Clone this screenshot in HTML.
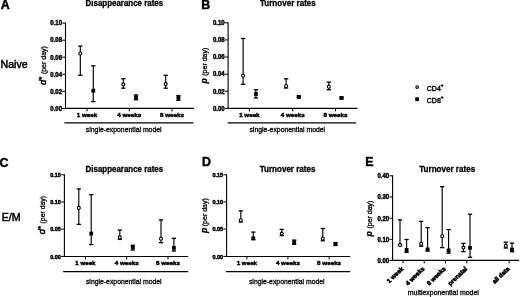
<!DOCTYPE html>
<html><head><meta charset="utf-8"><title>Figure</title>
<style>html,body{margin:0;padding:0;background:#fff}svg{display:block}text{font-family:"Liberation Sans",sans-serif;stroke:#000;stroke-width:0.3px}.b{stroke-width:0.45px}.h{stroke-width:0.5px}.r{stroke-width:0.55px}.m{stroke-width:0.4px}.t{stroke-width:0.2px}</style>
</head><body>
<svg width="520" height="297" viewBox="0 0 520 297">
<rect width="520" height="297" fill="#fff"/>
<text x="0.85" y="9.30" font-size="12.4" text-anchor="start" font-weight="bold" class="b" fill="#000">A</text>
<text x="201.20" y="8.60" font-size="12.4" text-anchor="start" font-weight="bold" class="b" fill="#000">B</text>
<text x="-0.40" y="166.70" font-size="12.4" text-anchor="start" font-weight="bold" class="b" fill="#000">C</text>
<text x="202.10" y="165.90" font-size="12.4" text-anchor="start" font-weight="bold" class="b" fill="#000">D</text>
<text x="365.30" y="165.80" font-size="12.4" text-anchor="start" font-weight="bold" class="b" fill="#000">E</text>
<text x="0.50" y="68.00" font-size="10.6" text-anchor="start" fill="#000" class="h">Naive</text>
<text x="1.70" y="220.60" font-size="10.7" text-anchor="start" fill="#000" class="h">E/M</text>
<line x1="65.50" y1="22.60" x2="65.50" y2="109.00" stroke="#000" stroke-width="1.1"/>
<line x1="64.95" y1="108.40" x2="194.00" y2="108.40" stroke="#000" stroke-width="1.1"/>
<line x1="62.20" y1="23.10" x2="65.50" y2="23.10" stroke="#000" stroke-width="1.0"/>
<text x="62.00" y="25.40" font-size="6.5" text-anchor="end" font-weight="bold" class="b" textLength="11.70" lengthAdjust="spacingAndGlyphs" fill="#000">0.10</text>
<line x1="62.20" y1="40.16" x2="65.50" y2="40.16" stroke="#000" stroke-width="1.0"/>
<text x="62.00" y="42.46" font-size="6.5" text-anchor="end" font-weight="bold" class="b" textLength="11.70" lengthAdjust="spacingAndGlyphs" fill="#000">0.08</text>
<line x1="62.20" y1="57.22" x2="65.50" y2="57.22" stroke="#000" stroke-width="1.0"/>
<text x="62.00" y="59.52" font-size="6.5" text-anchor="end" font-weight="bold" class="b" textLength="11.70" lengthAdjust="spacingAndGlyphs" fill="#000">0.06</text>
<line x1="62.20" y1="74.28" x2="65.50" y2="74.28" stroke="#000" stroke-width="1.0"/>
<text x="62.00" y="76.58" font-size="6.5" text-anchor="end" font-weight="bold" class="b" textLength="11.70" lengthAdjust="spacingAndGlyphs" fill="#000">0.04</text>
<line x1="62.20" y1="91.34" x2="65.50" y2="91.34" stroke="#000" stroke-width="1.0"/>
<text x="62.00" y="93.64" font-size="6.5" text-anchor="end" font-weight="bold" class="b" textLength="11.70" lengthAdjust="spacingAndGlyphs" fill="#000">0.02</text>
<line x1="62.20" y1="108.40" x2="65.50" y2="108.40" stroke="#000" stroke-width="1.0"/>
<text x="62.00" y="110.70" font-size="6.5" text-anchor="end" font-weight="bold" class="b" textLength="11.70" lengthAdjust="spacingAndGlyphs" fill="#000">0.00</text>
<line x1="87.00" y1="108.40" x2="87.00" y2="111.40" stroke="#000" stroke-width="1.0"/>
<line x1="129.30" y1="108.40" x2="129.30" y2="111.40" stroke="#000" stroke-width="1.0"/>
<line x1="172.00" y1="108.40" x2="172.00" y2="111.40" stroke="#000" stroke-width="1.0"/>
<text x="87.00" y="116.70" font-size="6.0" text-anchor="middle" font-weight="bold" class="b" textLength="20.40" lengthAdjust="spacingAndGlyphs" fill="#000">1 week</text>
<text x="129.30" y="116.70" font-size="6.0" text-anchor="middle" font-weight="bold" class="b" textLength="24.00" lengthAdjust="spacingAndGlyphs" fill="#000">4 weeks</text>
<text x="172.00" y="116.70" font-size="6.0" text-anchor="middle" font-weight="bold" class="b" textLength="24.00" lengthAdjust="spacingAndGlyphs" fill="#000">8 weeks</text>
<line x1="80.30" y1="46.00" x2="80.30" y2="75.30" stroke="#000" stroke-width="1.15"/>
<line x1="78.15" y1="46.10" x2="82.45" y2="46.10" stroke="#000" stroke-width="1.3"/>
<line x1="78.15" y1="75.30" x2="82.45" y2="75.30" stroke="#000" stroke-width="1.3"/>
<circle cx="80.30" cy="53.50" r="1.5" fill="#fff" stroke="#000" stroke-width="1.1"/>
<line x1="93.30" y1="65.70" x2="93.30" y2="101.60" stroke="#000" stroke-width="1.15"/>
<line x1="91.15" y1="65.80" x2="95.45" y2="65.80" stroke="#000" stroke-width="1.3"/>
<line x1="91.15" y1="101.60" x2="95.45" y2="101.60" stroke="#000" stroke-width="1.3"/>
<rect x="91.40" y="88.80" width="3.8" height="3.8" fill="#000"/>
<line x1="123.30" y1="78.60" x2="123.30" y2="88.20" stroke="#000" stroke-width="1.15"/>
<line x1="121.15" y1="78.70" x2="125.45" y2="78.70" stroke="#000" stroke-width="1.3"/>
<line x1="121.15" y1="88.20" x2="125.45" y2="88.20" stroke="#000" stroke-width="1.3"/>
<circle cx="123.30" cy="84.40" r="1.5" fill="#fff" stroke="#000" stroke-width="1.1"/>
<line x1="136.00" y1="94.80" x2="136.00" y2="99.70" stroke="#000" stroke-width="1.15"/>
<line x1="133.85" y1="94.90" x2="138.15" y2="94.90" stroke="#000" stroke-width="1.3"/>
<line x1="133.85" y1="99.70" x2="138.15" y2="99.70" stroke="#000" stroke-width="1.3"/>
<rect x="134.10" y="95.30" width="3.8" height="3.8" fill="#000"/>
<line x1="165.70" y1="75.20" x2="165.70" y2="88.20" stroke="#000" stroke-width="1.15"/>
<line x1="163.55" y1="75.30" x2="167.85" y2="75.30" stroke="#000" stroke-width="1.3"/>
<line x1="163.55" y1="88.20" x2="167.85" y2="88.20" stroke="#000" stroke-width="1.3"/>
<circle cx="165.70" cy="84.10" r="1.5" fill="#fff" stroke="#000" stroke-width="1.1"/>
<line x1="178.40" y1="95.50" x2="178.40" y2="100.30" stroke="#000" stroke-width="1.15"/>
<line x1="176.25" y1="95.60" x2="180.55" y2="95.60" stroke="#000" stroke-width="1.3"/>
<line x1="176.25" y1="100.30" x2="180.55" y2="100.30" stroke="#000" stroke-width="1.3"/>
<rect x="176.50" y="96.00" width="3.8" height="3.8" fill="#000"/>
<text x="124.40" y="6.20" font-size="8.2" text-anchor="middle" font-weight="bold" class="b" textLength="77.60" lengthAdjust="spacingAndGlyphs" fill="#000" style="stroke-width:0.3px">Disappearance rates</text>
<line x1="64.40" y1="122.90" x2="193.30" y2="122.90" stroke="#000" stroke-width="1.3"/>
<text x="123.70" y="131.60" font-size="7" text-anchor="middle" textLength="75.70" lengthAdjust="spacingAndGlyphs" fill="#000">single-exponential model</text>
<text transform="translate(46.00,46.10) rotate(-90)" font-size="7.00" text-anchor="end" fill="#000"><tspan font-style="italic" class="r" font-size="9.40">d</tspan><tspan font-size="7.00" font-weight="bold" dy="-1.9" dx="0.5">*</tspan><tspan dy="1.9" dx="0.6" font-size="7.00"> (per day)</tspan></text>
<line x1="228.10" y1="22.30" x2="228.10" y2="109.00" stroke="#000" stroke-width="1.1"/>
<line x1="227.55" y1="108.40" x2="357.50" y2="108.40" stroke="#000" stroke-width="1.1"/>
<line x1="224.80" y1="22.80" x2="228.10" y2="22.80" stroke="#000" stroke-width="1.0"/>
<text x="224.60" y="25.10" font-size="6.5" text-anchor="end" font-weight="bold" class="b" textLength="11.70" lengthAdjust="spacingAndGlyphs" fill="#000">0.10</text>
<line x1="224.80" y1="39.92" x2="228.10" y2="39.92" stroke="#000" stroke-width="1.0"/>
<text x="224.60" y="42.22" font-size="6.5" text-anchor="end" font-weight="bold" class="b" textLength="11.70" lengthAdjust="spacingAndGlyphs" fill="#000">0.08</text>
<line x1="224.80" y1="57.04" x2="228.10" y2="57.04" stroke="#000" stroke-width="1.0"/>
<text x="224.60" y="59.34" font-size="6.5" text-anchor="end" font-weight="bold" class="b" textLength="11.70" lengthAdjust="spacingAndGlyphs" fill="#000">0.06</text>
<line x1="224.80" y1="74.16" x2="228.10" y2="74.16" stroke="#000" stroke-width="1.0"/>
<text x="224.60" y="76.46" font-size="6.5" text-anchor="end" font-weight="bold" class="b" textLength="11.70" lengthAdjust="spacingAndGlyphs" fill="#000">0.04</text>
<line x1="224.80" y1="91.28" x2="228.10" y2="91.28" stroke="#000" stroke-width="1.0"/>
<text x="224.60" y="93.58" font-size="6.5" text-anchor="end" font-weight="bold" class="b" textLength="11.70" lengthAdjust="spacingAndGlyphs" fill="#000">0.02</text>
<line x1="224.80" y1="108.40" x2="228.10" y2="108.40" stroke="#000" stroke-width="1.0"/>
<text x="224.60" y="110.70" font-size="6.5" text-anchor="end" font-weight="bold" class="b" textLength="11.70" lengthAdjust="spacingAndGlyphs" fill="#000">0.00</text>
<line x1="249.40" y1="108.40" x2="249.40" y2="111.40" stroke="#000" stroke-width="1.0"/>
<line x1="292.70" y1="108.40" x2="292.70" y2="111.40" stroke="#000" stroke-width="1.0"/>
<line x1="335.50" y1="108.40" x2="335.50" y2="111.40" stroke="#000" stroke-width="1.0"/>
<text x="249.40" y="116.70" font-size="6.0" text-anchor="middle" font-weight="bold" class="b" textLength="20.40" lengthAdjust="spacingAndGlyphs" fill="#000">1 week</text>
<text x="292.70" y="116.70" font-size="6.0" text-anchor="middle" font-weight="bold" class="b" textLength="24.00" lengthAdjust="spacingAndGlyphs" fill="#000">4 weeks</text>
<text x="335.50" y="116.70" font-size="6.0" text-anchor="middle" font-weight="bold" class="b" textLength="24.00" lengthAdjust="spacingAndGlyphs" fill="#000">8 weeks</text>
<line x1="243.10" y1="38.40" x2="243.10" y2="84.30" stroke="#000" stroke-width="1.15"/>
<line x1="240.95" y1="38.50" x2="245.25" y2="38.50" stroke="#000" stroke-width="1.3"/>
<line x1="240.95" y1="84.30" x2="245.25" y2="84.30" stroke="#000" stroke-width="1.3"/>
<circle cx="243.10" cy="75.80" r="1.5" fill="#fff" stroke="#000" stroke-width="1.1"/>
<line x1="255.90" y1="89.70" x2="255.90" y2="98.00" stroke="#000" stroke-width="1.15"/>
<line x1="253.75" y1="89.80" x2="258.05" y2="89.80" stroke="#000" stroke-width="1.3"/>
<line x1="253.75" y1="98.00" x2="258.05" y2="98.00" stroke="#000" stroke-width="1.3"/>
<rect x="254.00" y="92.10" width="3.8" height="3.8" fill="#000"/>
<line x1="286.10" y1="78.70" x2="286.10" y2="88.00" stroke="#000" stroke-width="1.15"/>
<line x1="283.95" y1="78.80" x2="288.25" y2="78.80" stroke="#000" stroke-width="1.3"/>
<line x1="283.95" y1="88.00" x2="288.25" y2="88.00" stroke="#000" stroke-width="1.3"/>
<circle cx="286.10" cy="86.00" r="1.5" fill="#fff" stroke="#000" stroke-width="1.1"/>
<line x1="298.80" y1="96.00" x2="298.80" y2="97.80" stroke="#000" stroke-width="1.15"/>
<line x1="296.65" y1="96.10" x2="300.95" y2="96.10" stroke="#000" stroke-width="1.3"/>
<line x1="296.65" y1="97.80" x2="300.95" y2="97.80" stroke="#000" stroke-width="1.3"/>
<rect x="296.90" y="95.00" width="3.8" height="3.8" fill="#000"/>
<line x1="328.80" y1="82.00" x2="328.80" y2="89.70" stroke="#000" stroke-width="1.15"/>
<line x1="326.65" y1="82.10" x2="330.95" y2="82.10" stroke="#000" stroke-width="1.3"/>
<line x1="326.65" y1="89.70" x2="330.95" y2="89.70" stroke="#000" stroke-width="1.3"/>
<circle cx="328.80" cy="86.70" r="1.5" fill="#fff" stroke="#000" stroke-width="1.1"/>
<line x1="341.50" y1="97.00" x2="341.50" y2="98.80" stroke="#000" stroke-width="1.15"/>
<line x1="339.35" y1="97.10" x2="343.65" y2="97.10" stroke="#000" stroke-width="1.3"/>
<line x1="339.35" y1="98.80" x2="343.65" y2="98.80" stroke="#000" stroke-width="1.3"/>
<rect x="339.60" y="96.00" width="3.8" height="3.8" fill="#000"/>
<text x="287.90" y="6.20" font-size="8.2" text-anchor="middle" font-weight="bold" class="b" textLength="55.80" lengthAdjust="spacingAndGlyphs" fill="#000" style="stroke-width:0.3px">Turnover rates</text>
<line x1="227.60" y1="122.90" x2="356.00" y2="122.90" stroke="#000" stroke-width="1.3"/>
<text x="287.30" y="131.60" font-size="7" text-anchor="middle" textLength="75.70" lengthAdjust="spacingAndGlyphs" fill="#000">single-exponential model</text>
<text transform="translate(207.30,47.70) rotate(-90)" font-size="7.00" text-anchor="end" fill="#000"><tspan font-style="italic" font-weight="bold" font-size="8.60">p</tspan><tspan font-size="7.00" dx="0.6"> (per day)</tspan></text>
<line x1="64.40" y1="174.30" x2="64.40" y2="257.10" stroke="#000" stroke-width="1.1"/>
<line x1="63.85" y1="256.50" x2="188.20" y2="256.50" stroke="#000" stroke-width="1.1"/>
<line x1="61.10" y1="174.80" x2="64.40" y2="174.80" stroke="#000" stroke-width="1.0"/>
<text x="60.90" y="177.10" font-size="6.1" text-anchor="end" font-weight="bold" class="b" textLength="10.70" lengthAdjust="spacingAndGlyphs" fill="#000">0.15</text>
<line x1="61.10" y1="202.00" x2="64.40" y2="202.00" stroke="#000" stroke-width="1.0"/>
<text x="60.90" y="204.30" font-size="6.1" text-anchor="end" font-weight="bold" class="b" textLength="10.70" lengthAdjust="spacingAndGlyphs" fill="#000">0.10</text>
<line x1="61.10" y1="229.10" x2="64.40" y2="229.10" stroke="#000" stroke-width="1.0"/>
<text x="60.90" y="231.40" font-size="6.1" text-anchor="end" font-weight="bold" class="b" textLength="10.70" lengthAdjust="spacingAndGlyphs" fill="#000">0.05</text>
<line x1="61.10" y1="256.40" x2="64.40" y2="256.40" stroke="#000" stroke-width="1.0"/>
<text x="60.90" y="258.70" font-size="6.1" text-anchor="end" font-weight="bold" class="b" textLength="10.70" lengthAdjust="spacingAndGlyphs" fill="#000">0.00</text>
<line x1="85.40" y1="256.50" x2="85.40" y2="259.50" stroke="#000" stroke-width="1.0"/>
<line x1="126.70" y1="256.50" x2="126.70" y2="259.50" stroke="#000" stroke-width="1.0"/>
<line x1="168.00" y1="256.50" x2="168.00" y2="259.50" stroke="#000" stroke-width="1.0"/>
<text x="85.40" y="264.90" font-size="6.0" text-anchor="middle" font-weight="bold" class="b" textLength="20.20" lengthAdjust="spacingAndGlyphs" fill="#000">1 week</text>
<text x="126.70" y="264.90" font-size="6.0" text-anchor="middle" font-weight="bold" class="b" textLength="24.00" lengthAdjust="spacingAndGlyphs" fill="#000">4 weeks</text>
<text x="168.00" y="264.90" font-size="6.0" text-anchor="middle" font-weight="bold" class="b" textLength="24.00" lengthAdjust="spacingAndGlyphs" fill="#000">8 weeks</text>
<line x1="78.80" y1="188.80" x2="78.80" y2="224.40" stroke="#000" stroke-width="1.15"/>
<line x1="76.65" y1="188.90" x2="80.95" y2="188.90" stroke="#000" stroke-width="1.3"/>
<line x1="76.65" y1="224.40" x2="80.95" y2="224.40" stroke="#000" stroke-width="1.3"/>
<circle cx="78.80" cy="207.90" r="1.5" fill="#fff" stroke="#000" stroke-width="1.1"/>
<line x1="91.20" y1="194.60" x2="91.20" y2="244.60" stroke="#000" stroke-width="1.15"/>
<line x1="89.05" y1="194.70" x2="93.35" y2="194.70" stroke="#000" stroke-width="1.3"/>
<line x1="89.05" y1="244.60" x2="93.35" y2="244.60" stroke="#000" stroke-width="1.3"/>
<rect x="89.30" y="231.70" width="3.8" height="3.8" fill="#000"/>
<line x1="119.80" y1="230.00" x2="119.80" y2="239.40" stroke="#000" stroke-width="1.15"/>
<line x1="117.65" y1="230.10" x2="121.95" y2="230.10" stroke="#000" stroke-width="1.3"/>
<line x1="117.65" y1="239.40" x2="121.95" y2="239.40" stroke="#000" stroke-width="1.3"/>
<circle cx="119.80" cy="237.40" r="1.5" fill="#fff" stroke="#000" stroke-width="1.1"/>
<line x1="132.80" y1="245.20" x2="132.80" y2="250.00" stroke="#000" stroke-width="1.15"/>
<line x1="130.65" y1="245.30" x2="134.95" y2="245.30" stroke="#000" stroke-width="1.3"/>
<line x1="130.65" y1="250.00" x2="134.95" y2="250.00" stroke="#000" stroke-width="1.3"/>
<rect x="130.90" y="245.30" width="3.8" height="3.8" fill="#000"/>
<line x1="161.00" y1="219.80" x2="161.00" y2="242.70" stroke="#000" stroke-width="1.15"/>
<line x1="158.85" y1="219.90" x2="163.15" y2="219.90" stroke="#000" stroke-width="1.3"/>
<line x1="158.85" y1="242.70" x2="163.15" y2="242.70" stroke="#000" stroke-width="1.3"/>
<circle cx="161.00" cy="238.80" r="1.5" fill="#fff" stroke="#000" stroke-width="1.1"/>
<line x1="173.90" y1="238.20" x2="173.90" y2="251.00" stroke="#000" stroke-width="1.15"/>
<line x1="171.75" y1="238.30" x2="176.05" y2="238.30" stroke="#000" stroke-width="1.3"/>
<line x1="171.75" y1="251.00" x2="176.05" y2="251.00" stroke="#000" stroke-width="1.3"/>
<rect x="172.00" y="245.90" width="3.8" height="3.8" fill="#000"/>
<text x="124.40" y="172.10" font-size="8.2" text-anchor="middle" font-weight="bold" class="b" textLength="77.60" lengthAdjust="spacingAndGlyphs" fill="#000" style="stroke-width:0.3px">Disappearance rates</text>
<line x1="63.20" y1="271.60" x2="188.20" y2="271.60" stroke="#000" stroke-width="1.3"/>
<text x="123.80" y="284.00" font-size="7" text-anchor="middle" textLength="75.70" lengthAdjust="spacingAndGlyphs" fill="#000">single-exponential model</text>
<text transform="translate(45.00,196.00) rotate(-90)" font-size="6.86" text-anchor="end" fill="#000"><tspan font-style="italic" class="r" font-size="9.21">d</tspan><tspan font-size="6.86" font-weight="bold" dy="-1.9" dx="0.5">*</tspan><tspan dy="1.9" dx="0.6" font-size="6.86"> (per day)</tspan></text>
<line x1="226.60" y1="174.30" x2="226.60" y2="257.10" stroke="#000" stroke-width="1.1"/>
<line x1="226.05" y1="256.50" x2="350.20" y2="256.50" stroke="#000" stroke-width="1.1"/>
<line x1="223.30" y1="174.80" x2="226.60" y2="174.80" stroke="#000" stroke-width="1.0"/>
<text x="223.10" y="177.10" font-size="6.1" text-anchor="end" font-weight="bold" class="b" textLength="10.70" lengthAdjust="spacingAndGlyphs" fill="#000">0.15</text>
<line x1="223.30" y1="202.00" x2="226.60" y2="202.00" stroke="#000" stroke-width="1.0"/>
<text x="223.10" y="204.30" font-size="6.1" text-anchor="end" font-weight="bold" class="b" textLength="10.70" lengthAdjust="spacingAndGlyphs" fill="#000">0.10</text>
<line x1="223.30" y1="229.10" x2="226.60" y2="229.10" stroke="#000" stroke-width="1.0"/>
<text x="223.10" y="231.40" font-size="6.1" text-anchor="end" font-weight="bold" class="b" textLength="10.70" lengthAdjust="spacingAndGlyphs" fill="#000">0.05</text>
<line x1="223.30" y1="256.40" x2="226.60" y2="256.40" stroke="#000" stroke-width="1.0"/>
<text x="223.10" y="258.70" font-size="6.1" text-anchor="end" font-weight="bold" class="b" textLength="10.70" lengthAdjust="spacingAndGlyphs" fill="#000">0.00</text>
<line x1="246.90" y1="256.50" x2="246.90" y2="259.50" stroke="#000" stroke-width="1.0"/>
<line x1="287.90" y1="256.50" x2="287.90" y2="259.50" stroke="#000" stroke-width="1.0"/>
<line x1="329.10" y1="256.50" x2="329.10" y2="259.50" stroke="#000" stroke-width="1.0"/>
<text x="246.90" y="264.90" font-size="6.0" text-anchor="middle" font-weight="bold" class="b" textLength="20.40" lengthAdjust="spacingAndGlyphs" fill="#000">1 week</text>
<text x="287.90" y="264.90" font-size="6.0" text-anchor="middle" font-weight="bold" class="b" textLength="24.00" lengthAdjust="spacingAndGlyphs" fill="#000">4 weeks</text>
<text x="329.10" y="264.90" font-size="6.0" text-anchor="middle" font-weight="bold" class="b" textLength="24.00" lengthAdjust="spacingAndGlyphs" fill="#000">8 weeks</text>
<line x1="240.80" y1="210.80" x2="240.80" y2="222.00" stroke="#000" stroke-width="1.15"/>
<line x1="238.65" y1="210.90" x2="242.95" y2="210.90" stroke="#000" stroke-width="1.3"/>
<line x1="238.65" y1="222.00" x2="242.95" y2="222.00" stroke="#000" stroke-width="1.3"/>
<circle cx="240.80" cy="220.30" r="1.5" fill="#fff" stroke="#000" stroke-width="1.1"/>
<line x1="253.30" y1="232.00" x2="253.30" y2="239.60" stroke="#000" stroke-width="1.15"/>
<line x1="251.15" y1="232.10" x2="255.45" y2="232.10" stroke="#000" stroke-width="1.3"/>
<line x1="251.15" y1="239.60" x2="255.45" y2="239.60" stroke="#000" stroke-width="1.3"/>
<rect x="251.40" y="236.40" width="3.8" height="3.8" fill="#000"/>
<line x1="281.80" y1="229.30" x2="281.80" y2="235.60" stroke="#000" stroke-width="1.15"/>
<line x1="279.65" y1="229.40" x2="283.95" y2="229.40" stroke="#000" stroke-width="1.3"/>
<line x1="279.65" y1="235.60" x2="283.95" y2="235.60" stroke="#000" stroke-width="1.3"/>
<circle cx="281.80" cy="233.60" r="1.5" fill="#fff" stroke="#000" stroke-width="1.1"/>
<line x1="294.20" y1="240.00" x2="294.20" y2="244.30" stroke="#000" stroke-width="1.15"/>
<line x1="292.05" y1="240.10" x2="296.35" y2="240.10" stroke="#000" stroke-width="1.3"/>
<line x1="292.05" y1="244.30" x2="296.35" y2="244.30" stroke="#000" stroke-width="1.3"/>
<rect x="292.30" y="240.40" width="3.8" height="3.8" fill="#000"/>
<line x1="322.80" y1="228.40" x2="322.80" y2="240.80" stroke="#000" stroke-width="1.15"/>
<line x1="320.65" y1="228.50" x2="324.95" y2="228.50" stroke="#000" stroke-width="1.3"/>
<line x1="320.65" y1="240.80" x2="324.95" y2="240.80" stroke="#000" stroke-width="1.3"/>
<circle cx="322.80" cy="238.50" r="1.5" fill="#fff" stroke="#000" stroke-width="1.1"/>
<line x1="335.50" y1="242.50" x2="335.50" y2="245.50" stroke="#000" stroke-width="1.15"/>
<line x1="333.35" y1="242.60" x2="337.65" y2="242.60" stroke="#000" stroke-width="1.3"/>
<line x1="333.35" y1="245.50" x2="337.65" y2="245.50" stroke="#000" stroke-width="1.3"/>
<rect x="333.60" y="242.10" width="3.8" height="3.8" fill="#000"/>
<text x="287.60" y="172.10" font-size="8.2" text-anchor="middle" font-weight="bold" class="b" textLength="55.80" lengthAdjust="spacingAndGlyphs" fill="#000" style="stroke-width:0.3px">Turnover rates</text>
<line x1="225.90" y1="271.60" x2="350.20" y2="271.60" stroke="#000" stroke-width="1.3"/>
<text x="286.80" y="284.00" font-size="7" text-anchor="middle" textLength="75.70" lengthAdjust="spacingAndGlyphs" fill="#000">single-exponential model</text>
<text transform="translate(207.30,198.20) rotate(-90)" font-size="7.00" text-anchor="end" fill="#000"><tspan font-style="italic" font-weight="bold" font-size="8.60">p</tspan><tspan font-size="7.00" dx="-0.3"> (per day)</tspan></text>
<line x1="392.60" y1="175.30" x2="392.60" y2="261.00" stroke="#000" stroke-width="1.1"/>
<line x1="392.05" y1="260.40" x2="519.20" y2="260.40" stroke="#000" stroke-width="1.1"/>
<line x1="389.30" y1="175.80" x2="392.60" y2="175.80" stroke="#000" stroke-width="1.0"/>
<text x="389.10" y="178.10" font-size="6.5" text-anchor="end" font-weight="bold" class="b" textLength="11.70" lengthAdjust="spacingAndGlyphs" fill="#000">0.40</text>
<line x1="389.30" y1="197.00" x2="392.60" y2="197.00" stroke="#000" stroke-width="1.0"/>
<text x="389.10" y="199.30" font-size="6.5" text-anchor="end" font-weight="bold" class="b" textLength="11.70" lengthAdjust="spacingAndGlyphs" fill="#000">0.30</text>
<line x1="389.30" y1="218.20" x2="392.60" y2="218.20" stroke="#000" stroke-width="1.0"/>
<text x="389.10" y="220.50" font-size="6.5" text-anchor="end" font-weight="bold" class="b" textLength="11.70" lengthAdjust="spacingAndGlyphs" fill="#000">0.20</text>
<line x1="389.30" y1="239.30" x2="392.60" y2="239.30" stroke="#000" stroke-width="1.0"/>
<text x="389.10" y="241.60" font-size="6.5" text-anchor="end" font-weight="bold" class="b" textLength="11.70" lengthAdjust="spacingAndGlyphs" fill="#000">0.10</text>
<line x1="389.30" y1="260.40" x2="392.60" y2="260.40" stroke="#000" stroke-width="1.0"/>
<text x="389.10" y="262.70" font-size="6.5" text-anchor="end" font-weight="bold" class="b" textLength="11.70" lengthAdjust="spacingAndGlyphs" fill="#000">0.00</text>
<line x1="403.10" y1="260.40" x2="403.10" y2="263.40" stroke="#000" stroke-width="1.0"/>
<line x1="424.20" y1="260.40" x2="424.20" y2="263.40" stroke="#000" stroke-width="1.0"/>
<line x1="445.50" y1="260.40" x2="445.50" y2="263.40" stroke="#000" stroke-width="1.0"/>
<line x1="466.80" y1="260.40" x2="466.80" y2="263.40" stroke="#000" stroke-width="1.0"/>
<line x1="509.20" y1="260.40" x2="509.20" y2="263.40" stroke="#000" stroke-width="1.0"/>
<line x1="400.00" y1="219.80" x2="400.00" y2="244.90" stroke="#000" stroke-width="1.15"/>
<line x1="397.85" y1="219.90" x2="402.15" y2="219.90" stroke="#000" stroke-width="1.3"/>
<line x1="397.85" y1="244.90" x2="402.15" y2="244.90" stroke="#000" stroke-width="1.3"/>
<circle cx="400.00" cy="244.90" r="1.5" fill="#fff" stroke="#000" stroke-width="1.1"/>
<line x1="406.60" y1="239.40" x2="406.60" y2="252.30" stroke="#000" stroke-width="1.15"/>
<line x1="404.45" y1="239.50" x2="408.75" y2="239.50" stroke="#000" stroke-width="1.3"/>
<line x1="404.45" y1="252.30" x2="408.75" y2="252.30" stroke="#000" stroke-width="1.3"/>
<rect x="404.70" y="248.00" width="3.8" height="3.8" fill="#000"/>
<line x1="421.20" y1="221.30" x2="421.20" y2="246.20" stroke="#000" stroke-width="1.15"/>
<line x1="419.05" y1="221.40" x2="423.35" y2="221.40" stroke="#000" stroke-width="1.3"/>
<line x1="419.05" y1="246.20" x2="423.35" y2="246.20" stroke="#000" stroke-width="1.3"/>
<circle cx="421.20" cy="243.90" r="1.5" fill="#fff" stroke="#000" stroke-width="1.1"/>
<line x1="427.60" y1="227.50" x2="427.60" y2="251.00" stroke="#000" stroke-width="1.15"/>
<line x1="425.45" y1="227.60" x2="429.75" y2="227.60" stroke="#000" stroke-width="1.3"/>
<line x1="425.45" y1="251.00" x2="429.75" y2="251.00" stroke="#000" stroke-width="1.3"/>
<rect x="425.70" y="247.50" width="3.8" height="3.8" fill="#000"/>
<line x1="442.20" y1="186.60" x2="442.20" y2="247.60" stroke="#000" stroke-width="1.15"/>
<line x1="440.05" y1="186.70" x2="444.35" y2="186.70" stroke="#000" stroke-width="1.3"/>
<line x1="440.05" y1="247.60" x2="444.35" y2="247.60" stroke="#000" stroke-width="1.3"/>
<circle cx="442.20" cy="236.20" r="1.5" fill="#fff" stroke="#000" stroke-width="1.1"/>
<line x1="448.60" y1="229.50" x2="448.60" y2="253.20" stroke="#000" stroke-width="1.15"/>
<line x1="446.45" y1="229.60" x2="450.75" y2="229.60" stroke="#000" stroke-width="1.3"/>
<line x1="446.45" y1="253.20" x2="450.75" y2="253.20" stroke="#000" stroke-width="1.3"/>
<rect x="446.70" y="248.50" width="3.8" height="3.8" fill="#000"/>
<line x1="463.40" y1="243.30" x2="463.40" y2="251.60" stroke="#000" stroke-width="1.15"/>
<line x1="461.25" y1="243.40" x2="465.55" y2="243.40" stroke="#000" stroke-width="1.3"/>
<line x1="461.25" y1="251.60" x2="465.55" y2="251.60" stroke="#000" stroke-width="1.3"/>
<circle cx="463.40" cy="247.60" r="1.5" fill="#fff" stroke="#000" stroke-width="1.1"/>
<line x1="470.00" y1="214.10" x2="470.00" y2="257.30" stroke="#000" stroke-width="1.15"/>
<line x1="467.85" y1="214.20" x2="472.15" y2="214.20" stroke="#000" stroke-width="1.3"/>
<line x1="467.85" y1="257.30" x2="472.15" y2="257.30" stroke="#000" stroke-width="1.3"/>
<rect x="468.10" y="245.90" width="3.8" height="3.8" fill="#000"/>
<line x1="505.80" y1="242.10" x2="505.80" y2="248.00" stroke="#000" stroke-width="1.15"/>
<line x1="503.65" y1="242.20" x2="507.95" y2="242.20" stroke="#000" stroke-width="1.3"/>
<line x1="503.65" y1="248.00" x2="507.95" y2="248.00" stroke="#000" stroke-width="1.3"/>
<circle cx="505.80" cy="245.90" r="1.5" fill="#fff" stroke="#000" stroke-width="1.1"/>
<line x1="512.00" y1="243.00" x2="512.00" y2="251.70" stroke="#000" stroke-width="1.15"/>
<line x1="509.85" y1="243.10" x2="514.15" y2="243.10" stroke="#000" stroke-width="1.3"/>
<line x1="509.85" y1="251.70" x2="514.15" y2="251.70" stroke="#000" stroke-width="1.3"/>
<rect x="510.10" y="247.70" width="3.8" height="3.8" fill="#000"/>
<text x="447.20" y="171.90" font-size="8.2" text-anchor="middle" font-weight="bold" class="b" textLength="55.90" lengthAdjust="spacingAndGlyphs" fill="#000" style="stroke-width:0.3px">Turnover rates</text>
<text transform="translate(403.90,269.30) rotate(-44)" class="r" font-size="6.2" font-weight="bold" text-anchor="end" fill="#000">1 week</text>
<text transform="translate(425.00,269.30) rotate(-44)" class="r" font-size="6.2" font-weight="bold" text-anchor="end" fill="#000">4 weeks</text>
<text transform="translate(446.30,269.30) rotate(-44)" class="r" font-size="6.2" font-weight="bold" text-anchor="end" fill="#000">8 weeks</text>
<text transform="translate(467.60,269.30) rotate(-44)" class="r" font-size="6.2" font-weight="bold" text-anchor="end" fill="#000">prenatal</text>
<text transform="translate(510.00,269.30) rotate(-44)" class="r" font-size="6.2" font-weight="bold" text-anchor="end" fill="#000">all data</text>
<text x="443.30" y="295.00" font-size="7" text-anchor="middle" textLength="71.00" lengthAdjust="spacingAndGlyphs" fill="#000">multiexponential model</text>
<text transform="translate(371.60,200.60) rotate(-90)" font-size="7.00" text-anchor="end" fill="#000"><tspan font-style="italic" font-weight="bold" font-size="8.60">p</tspan><tspan font-size="7.00" dx="0.6"> (per day)</tspan></text>
<circle cx="417.1" cy="87.1" r="1.3" fill="#fff" stroke="#000" stroke-width="1.1"/>
<rect x="415.20" y="97.30" width="3.8" height="3.8" fill="#000"/>
<text x="426.8" y="90.6" font-size="7" class="m" fill="#000">CD4<tspan font-size="4.6" dy="-3.4">+</tspan></text>
<text x="426.8" y="102.8" font-size="7" class="m" fill="#000">CD8<tspan font-size="4.6" dy="-3.4">+</tspan></text>
</svg></body></html>
